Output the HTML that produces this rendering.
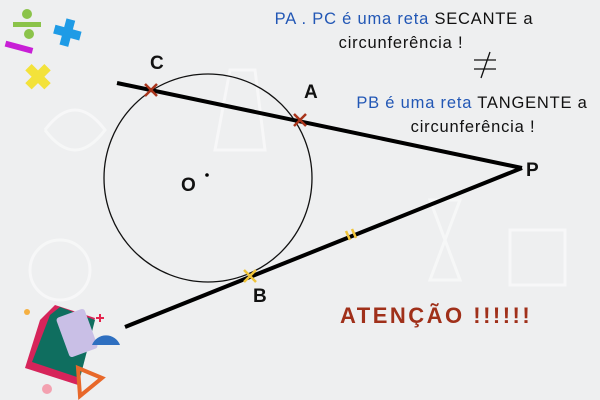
<!DOCTYPE html>
<html><head><meta charset="utf-8"><style>
body{margin:0;width:600px;height:400px;background:#eeeff0;overflow:hidden;font-family:"Liberation Sans",sans-serif}
svg{display:block}
</style></head><body>
<svg width="600" height="400" viewBox="0 0 600 400">
<rect width="600" height="400" fill="#eeeff0"/>
<g fill="none" stroke="#ffffff" stroke-width="3" opacity="0.5">
<path d="M230 70 L255 70 L265 150 L215 150 Z"/>
<circle cx="60" cy="270" r="30"/>
<rect x="510" y="230" width="55" height="55"/>
<path d="M430 200 L460 200 L445 240 L460 280 L430 280 L445 240 Z"/>
<path d="M45 130 q30 -40 60 0 q-30 40 -60 0"/>
</g>
<!-- top-left icons -->
<rect x="13" y="22" width="28" height="5" fill="#8bc34a"/>
<circle cx="27" cy="14" r="5" fill="#8bc34a"/><circle cx="29" cy="34" r="5" fill="#8bc34a"/>
<rect x="5" y="44" width="28" height="6" fill="#c81fd6" transform="rotate(15 18 47)"/>
<path d="M54 28h9v-9h9v9h9v9h-9v9h-9v-9h-9z" fill="#1e9be6" transform="rotate(15 67 32)"/>
<path d="M25 72h9v-9h9v9h9v9h-9v9h-9v-9h-9z" fill="#f3e23a" transform="rotate(45 38 76)"/>
<!-- bottom-left icons -->
<path d="M40 320 L55 305 L95 318 L78 385 L25 368 Z" fill="#d6245a"/>
<path d="M50 315 L60 307 L95 320 L80 378 L32 362 Z" fill="#0f6e5f"/>
<rect x="62" y="312" width="30" height="42" rx="3" fill="#c9bfe6" transform="rotate(-20 77 333)"/>
<path d="M78 368 L102 378 L80 396 Z" fill="none" stroke="#e8682a" stroke-width="4"/>
<path d="M92 345 a15 15 0 0 1 28 0 Z" fill="#2e6fc0"/>
<circle cx="27" cy="312" r="3" fill="#f5b042"/><circle cx="47" cy="389" r="5" fill="#f3a1b0"/>
<path d="M96 318h8M100 314v8" stroke="#e5234d" stroke-width="2"/>
<!-- geometry -->
<circle cx="208" cy="178" r="104" fill="none" stroke="#111" stroke-width="1.3"/>
<line x1="117" y1="83" x2="522" y2="168" stroke="#000" stroke-width="4"/>
<line x1="125" y1="327" x2="522" y2="168" stroke="#000" stroke-width="4"/>
<circle cx="207" cy="175" r="1.8" fill="#000"/>
<g stroke="#a8341b" stroke-width="2.5">
<path d="M145 84l12 12M157 84l-12 12"/><path d="M294 114l12 12M306 114l-12 12"/>
</g>
<g stroke="#f0c43a" stroke-width="2.5">
<path d="M244 270l12 12M256 270l-12 12"/>
<path d="M346 231l4 9M352 229l4 9"/>
</g>
<g font-weight="bold" font-size="19" fill="#111">
<text x="150" y="69">C</text><text x="304" y="98">A</text>
<text x="181" y="191">O</text><text x="253" y="302">B</text><text x="526" y="176">P</text>
</g>
<g font-size="16.5" text-anchor="middle" letter-spacing="0.8">
<text x="404" y="24"><tspan fill="#2257b5">PA . PC é uma reta </tspan><tspan fill="#111">SECANTE a</tspan></text>
<text x="401" y="48" fill="#111">circunferência !</text>
<text x="472" y="108"><tspan fill="#2257b5">PB é uma reta </tspan><tspan fill="#111"> TANGENTE a</tspan></text>
<text x="473" y="132" fill="#111">circunferência !</text>
</g>
<g stroke="#111" stroke-width="1.3"><path d="M474 60h22M474 69h22M481 78l9 -26"/></g>
<text x="340" y="323" font-size="22" font-weight="bold" fill="#a0301a" letter-spacing="2.5">ATENÇÃO !!!!!!</text>
</svg>
</body></html>
